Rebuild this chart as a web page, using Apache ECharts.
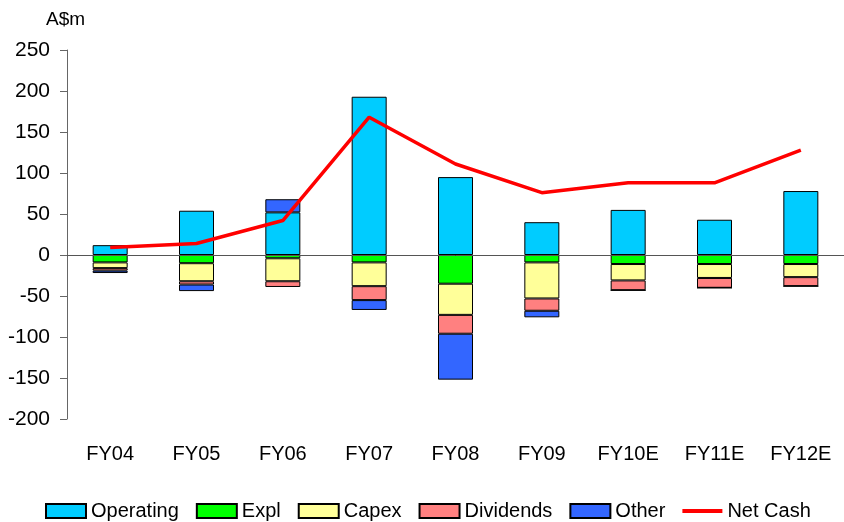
<!DOCTYPE html>
<html>
<head>
<meta charset="utf-8">
<script src="https://cdn.jsdelivr.net/npm/echarts@6/dist/echarts.min.js"></script>
<style>
  html, body { margin: 0; padding: 0; background: #fff; }
  #chart { width: 844px; height: 522px; }
</style>
</head>
<body>
<div id="chart"></div>
<script>
// Cash flow components by financial year (A$m)
const categories = ['FY04', 'FY05', 'FY06', 'FY07', 'FY08', 'FY09', 'FY10E', 'FY11E', 'FY12E'];
const operating = [12, 54, 52, 193, 95, 40, 55, 43, 78];
const expl      = [-9, -10, -4, -9, -35, -9, -11, -11, -11];
const capex     = [-7, -22, -28, -29, -38, -44, -20, -17, -16];
const dividends = [-3, -4, -7, -17, -23, -15, -12, -12, -11];
const other     = [-3, -8, 16, -12, -56, -8, 0, 0, 0];
const netCash   = [9, 14, 42, 168, 111, 76, 88, 88, 128];
const yTicks    = { min: -200, max: 250, step: 50 };

const FONT = '"Liberation Sans", Arial, sans-serif';

const barStyle = (color) => ({ color: color, borderColor: '#000', borderWidth: 1 });

function barSeries(name, data, color) {
  return {
    name: name,
    type: 'bar',
    stack: 'flows',
    barWidth: 35,
    data: data,
    itemStyle: barStyle(color),
    emphasis: { disabled: true }
  };
}

const series = [
  barSeries('Operating', operating, '#00CCFF'),
  barSeries('Expl', expl, '#00FF00'),
  barSeries('Capex', capex, '#FFFF99'),
  barSeries('Dividends', dividends, '#FF8080'),
  barSeries('Other', other, '#3366FF'),
  {
    name: 'Net Cash',
    type: 'line',
    data: netCash,
    symbol: 'none',
    lineStyle: { color: '#FF0000', width: 3.5 },
    itemStyle: { color: '#FF0000' },
    z: 5
  }
];

// zero line across the plot
series[0].markLine = {
  silent: true,
  symbol: 'none',
  label: { show: false },
  lineStyle: { color: '#555', width: 1, type: 'solid' },
  data: [{ yAxis: 0 }]
};

const chart = echarts.init(document.getElementById('chart'), null, { renderer: 'canvas' });
chart.setOption({
  animation: false,
  backgroundColor: '#fff',
  textStyle: { fontFamily: FONT },
  graphic: [{
    type: 'text',
    left: 46,
    top: 10,
    style: { text: 'A$m', font: '19px ' + FONT, fill: '#000' }
  }],
  grid: { left: 67, right: -6, top: 50, bottom: 103 },
  legend: {
    top: 500,
    left: 45,
    padding: 0,
    itemWidth: 40,
    itemHeight: 14,
    itemGap: 17,
    icon: 'rect',
    textStyle: { fontSize: 20, lineHeight: 22, color: '#000', fontFamily: FONT },
    data: [
      'Operating', 'Expl', 'Capex', 'Dividends', 'Other',
      { name: 'Net Cash', icon: 'path://M0 0 H40 V4 H0 Z', itemStyle: { borderWidth: 0 } }
    ]
  },
  xAxis: {
    type: 'category',
    data: categories,
    axisLine: { show: false, onZero: false },
    axisTick: { show: false },
    axisLabel: { fontSize: 20, color: '#000', margin: 25, fontFamily: FONT }
  },
  yAxis: {
    type: 'value',
    min: yTicks.min,
    max: yTicks.max,
    interval: yTicks.step,
    axisLine: { show: true, lineStyle: { color: '#666', width: 1 } },
    axisTick: { show: true, length: 7, lineStyle: { color: '#666' } },
    splitLine: { show: false },
    axisLabel: { fontSize: 21, color: '#000', margin: 17, fontFamily: FONT }
  },
  series: series
});
</script>
</body>
</html>
